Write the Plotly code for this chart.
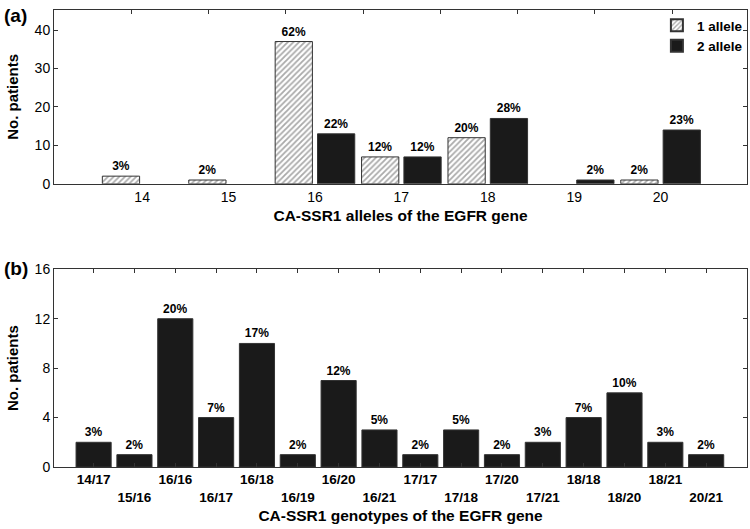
import plotly.graph_objects as go

# ---- Data ----
alleles = [14, 15, 16, 17, 18, 19, 20]
one_allele = [2, 1, 37, 7, 12, 0, 1]
one_allele_pct = ["3%", "2%", "62%", "12%", "20%", "", "2%"]
two_allele = [0, 0, 13, 7, 17, 1, 14]
two_allele_pct = ["", "", "22%", "12%", "28%", "2%", "23%"]

genotypes = ["14/17", "15/16", "16/16", "16/17", "16/18", "16/19", "16/20", "16/21",
             "17/17", "17/18", "17/20", "17/21", "18/18", "18/20", "18/21", "20/21"]
geno_counts = [2, 1, 12, 4, 10, 1, 7, 3, 1, 3, 1, 2, 4, 6, 2, 1]
geno_pct = ["3%", "2%", "20%", "7%", "17%", "2%", "12%", "5%",
            "2%", "5%", "2%", "3%", "7%", "10%", "3%", "2%"]

FONT = "Liberation Sans, Arial, sans-serif"
LINE = "#333333"
BAR = "#1a1a1a"

fig = go.Figure()

fig.add_trace(go.Bar(
    x=alleles, y=one_allele, name="1 allele",
    text=one_allele_pct, textposition="outside", cliponaxis=False, constraintext="none",
    textfont=dict(family=FONT, size=12, color="black", weight="bold"),
    marker=dict(color="white",
                line=dict(color=LINE, width=[0 if v == 0 else 1 for v in one_allele]),
                pattern=dict(shape="/", fgcolor="#555555", bgcolor="white", size=4, solidity=0.45)),
    xaxis="x", yaxis="y"))
fig.add_trace(go.Bar(
    x=alleles, y=two_allele, name="2 allele",
    text=two_allele_pct, textposition="outside", cliponaxis=False, constraintext="none",
    textfont=dict(family=FONT, size=12, color="black", weight="bold"),
    marker=dict(color=BAR, line=dict(color=LINE, width=[0 if v == 0 else 1 for v in two_allele])),
    xaxis="x", yaxis="y"))

# helper trace for top tick marks of panel (a)
fig.add_trace(go.Scatter(x=[None], y=[None], xaxis="x3", yaxis="y", showlegend=False,
                         hoverinfo="skip", mode="markers"))

fig.add_trace(go.Bar(
    x=list(range(len(genotypes))), y=geno_counts, showlegend=False,
    text=geno_pct, textposition="outside", cliponaxis=False, constraintext="none",
    textfont=dict(family=FONT, size=12, color="black", weight="bold"),
    marker=dict(color=BAR, line=dict(color=LINE, width=1)),
    width=0.86, xaxis="x2", yaxis="y2"))

ticktext_b = [g if i % 2 == 0 else " <br>" + g for i, g in enumerate(genotypes)]

axis_common = dict(showline=True, linecolor=LINE, linewidth=1, showgrid=False, zeroline=False,
                   ticks="inside", ticklen=4, tickcolor=LINE)

fig.update_layout(
    width=750, height=529,
    margin=dict(l=54, r=2, t=7, b=62),
    paper_bgcolor="white", plot_bgcolor="white",
    font=dict(family=FONT, color="black"),
    barmode="group", bargap=0.02, bargroupgap=0.12,
    xaxis=dict(**{**axis_common, "ticks": ""}, mirror=True, domain=[0, 1], anchor="y",
               range=[12.98, 21.0], tickvals=alleles, ticktext=[str(a) for a in alleles],
               tickfont=dict(size=14, family=FONT),
               title=dict(text="<b>CA-SSR1 alleles of the EGFR gene</b>",
                          font=dict(size=15.5, family=FONT), standoff=6)),
    xaxis3=dict(overlaying="x", side="top", range=[0, 8.97], tickvals=list(range(1, 9)),
                ticks="inside", ticklen=4, tickcolor=LINE, showticklabels=False,
                showline=False, showgrid=False, zeroline=False),
    yaxis=dict(**axis_common, mirror="ticks", domain=[0.6196, 1.0], anchor="x",
               range=[0, 45.2], tickvals=[0, 10, 20, 30, 40],
               tickfont=dict(size=14, family=FONT),
               title=dict(text="<b>No. patients</b>", font=dict(size=15, family=FONT), standoff=12)),
    xaxis2=dict(**axis_common, mirror="ticks", domain=[0, 1], anchor="y2",
                range=[-0.97, 16.0], tickvals=list(range(len(genotypes))), ticktext=ticktext_b,
                tickfont=dict(size=13.5, family=FONT, weight="bold"),
                title=dict(text="<b>CA-SSR1 genotypes of the EGFR gene</b>",
                           font=dict(size=15.5, family=FONT), standoff=6)),
    yaxis2=dict(**axis_common, mirror="ticks", domain=[0, 0.4326], anchor="x2",
                range=[0, 16], tickvals=[0, 4, 8, 12, 16],
                tickfont=dict(size=14, family=FONT),
                title=dict(text="<b>No. patients</b>", font=dict(size=15, family=FONT), standoff=12)),
    legend=dict(x=0.87, y=1.0, xanchor="left", yanchor="top",
                font=dict(size=13.5, family=FONT, weight="bold"),
                bgcolor="rgba(0,0,0,0)", tracegroupgap=0, itemsizing="constant"),
    annotations=[
        dict(text="<b>(a)</b>", x=2, y=13, xref="paper", yref="paper", showarrow=False,
             font=dict(size=19, family=FONT), xanchor="left", yanchor="middle"),
        dict(text="<b>(b)</b>", x=2, y=267, xref="paper", yref="paper", showarrow=False,
             font=dict(size=19, family=FONT), xanchor="left", yanchor="middle"),
    ],
)

# convert pixel positions for panel labels into paper coords
W, H = 750, 529
L, R, T, B = 54, 2, 7, 62
pw, ph = W - L - R, H - T - B
for ann in fig.layout.annotations:
    ann.x = (ann.x - L) / pw
    ann.y = (H - B - ann.y) / ph

fig.write_html("out.html", config={"displayModeBar": False},
               post_script="document.body.style.margin='0';document.body.style.overflow='hidden';")
